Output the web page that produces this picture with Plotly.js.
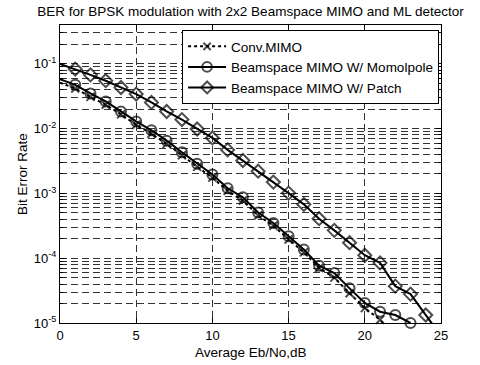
<!DOCTYPE html>
<html><head><meta charset="utf-8">
<script src="https://cdn.plot.ly/plotly-3.0.1.min.js"></script>
<style>html,body{margin:0;padding:0;background:#fff}#c{width:480px;height:365px}</style>
</head><body><div id="c"></div>
<script>
// Eb/No (dB)
var ebnoPatch = [0,1,2,3,4,5,6,7,8,9,10,11,12,13,14,15,16,17,18,19,20,21,22,23,24,25];
var logBerPatch = [-1.0,-1.08,-1.17,-1.26,-1.365,-1.466,-1.595,-1.735,-1.86,-2.005,-2.143,-2.328,-2.492,-2.657,-2.825,-2.995,-3.169,-3.39,-3.57,-3.76,-3.954,-4.072,-4.431,-4.554,-4.877,-5.2];
var ebnoMono = [0,1,2,3,4,5,6,7,8,9,10,11,12,13,14,15,16,17,18,19,20,21,22,23];
var logBerMono = [-1.235,-1.323,-1.457,-1.58,-1.734,-1.888,-2.025,-2.185,-2.365,-2.543,-2.708,-2.92,-3.06,-3.295,-3.457,-3.662,-3.866,-4.115,-4.23,-4.465,-4.69,-4.826,-4.877,-5.0];
var ebnoConv = [0,1,2,3,4,5,6,7,8,9,10,11,12,13,14,15,16,17,18,19,20,21,22];
var logBerConv = [-1.29,-1.38,-1.51,-1.63,-1.78,-1.94,-2.08,-2.235,-2.41,-2.59,-2.755,-2.96,-3.11,-3.34,-3.50,-3.71,-3.91,-4.15,-4.30,-4.54,-4.77,-4.95,-5.2];
var seriesNames = ['Conv.MIMO','Beamspace MIMO W/ Momolpole','Beamspace MIMO W/ Patch'];
var yTickVals = [1e-5,1e-4,1e-3,1e-2,1e-1];
var yTickText = ['10<sup>-5</sup>','10<sup>-4</sup>','10<sup>-3</sup>','10<sup>-2</sup>','10<sup>-1</sup>'];
var xTickVals = [0,5,10,15,20,25];
var titleText = 'BER for BPSK modulation with 2x2 Beamspace MIMO and ML detector';
var xTitle = 'Average Eb/No,dB';
var yTitle = 'Bit Error Rate';

function pw(a){return a.map(function(v){return Math.pow(10,v);});}
function sizes(x, s, lastHidden){
  return x.map(function(v,i){ if(i===0) return 0; if(lastHidden && i===x.length-1) return 0; return s; });
}
var FONT = 'Liberation Sans, Arial, sans-serif';
var GRID = '#333', GD = '7px,4px';
var traces = [
  {x: ebnoConv, y: pw(logBerConv), name: seriesNames[0], mode:'lines+markers', cliponaxis:false,
   line:{color:'#000', width:2, dash:'dot'},
   marker:{symbol:'x-thin-open', size:sizes(ebnoConv,8,true), color:'#000', line:{color:'#000', width:2}}},
  {x: ebnoMono, y: pw(logBerMono), name: seriesNames[1], mode:'lines+markers', cliponaxis:false,
   line:{color:'#000', width:2},
   marker:{symbol:'circle-open', size:sizes(ebnoMono,10,false), color:'#000', line:{color:'#000', width:2}}},
  {x: ebnoPatch, y: pw(logBerPatch), name: seriesNames[2], mode:'lines+markers', cliponaxis:false,
   line:{color:'#000', width:2},
   marker:{symbol:'diamond-open', size:sizes(ebnoPatch,10,true), color:'#000', line:{color:'#000', width:2}}}
];
var layout = {
  width:480, height:365,
  margin:{l:60, r:39, t:25, b:42},
  paper_bgcolor:'#fff', plot_bgcolor:'#fff',
  font:{family:FONT, size:13, color:'#000'},
  title:{text:titleText, font:{family:FONT,size:13.5,color:'#000'}, x:0.5, xref:'paper', xanchor:'center', y:0.97, yref:'container', yanchor:'middle'},
  xaxis:{range:[0,25], tickvals:xTickVals, ticks:'inside', ticklen:5, tickcolor:'#000', showline:true, linecolor:'#000', linewidth:1, mirror:'ticks',
    showgrid:true, gridcolor:GRID, griddash:GD, gridwidth:1, zeroline:false, tickfont:{family:FONT,size:13}},
  yaxis:{type:'log', range:[-5,-0.4], tickvals:yTickVals, ticktext:yTickText, ticks:'inside', ticklen:5, tickcolor:'#000', showline:true, linecolor:'#000', linewidth:1, mirror:'ticks',
    showgrid:true, gridcolor:GRID, griddash:GD, gridwidth:1, zeroline:false,
    minor:{dtick:'D1', showgrid:true, gridcolor:GRID, griddash:GD, gridwidth:1, ticks:'inside', ticklen:3, tickcolor:'#000'},
    tickfont:{family:FONT,size:13}},
  annotations:[
    {text:xTitle, xref:'paper', yref:'paper', x:0.5, y:-0.1, xanchor:'center', yanchor:'middle', showarrow:false, font:{family:FONT,size:13.5}},
    {text:yTitle, xref:'paper', yref:'paper', x:-0.1, y:0.5, xanchor:'center', yanchor:'middle', textangle:-90, showarrow:false, font:{family:FONT,size:13.5}}
  ],
  showlegend:true,
  legend:{x:0.995, y:0.983, xanchor:'right', yanchor:'top', bgcolor:'#fff', bordercolor:'#000', borderwidth:1, font:{family:FONT,size:13.5}, itemwidth:38, tracegroupgap:0}
};
Plotly.newPlot('c', traces, layout, {staticPlot:true});
</script></body></html>
